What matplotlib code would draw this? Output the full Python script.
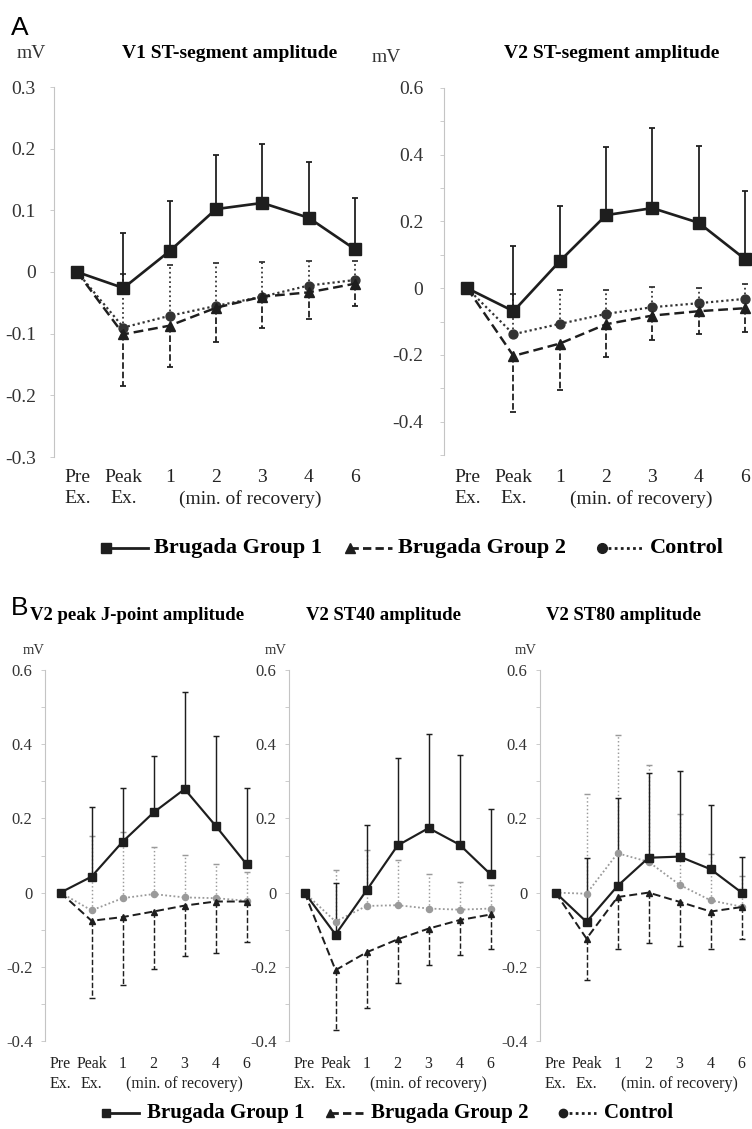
import numpy as np
import matplotlib.pyplot as plt
from matplotlib.lines import Line2D

W, H = 752, 1129
x_pos = np.arange(7)
tick_top = ["Pre", "Peak", "1", "2", "3", "4", "6"]
tick_bot = ["Ex.", "Ex."]
groups = ["Brugada Group 1", "Brugada Group 2", "Control"]

# A: V1 ST-segment amplitude (mean, SD)
v1_g1 = [0, -0.026, 0.034, 0.102, 0.112, 0.088, 0.037]
v1_g1_sd = [0, 0.090, 0.081, 0.088, 0.096, 0.090, 0.083]
v1_g2 = [0, -0.101, -0.087, -0.058, -0.040, -0.033, -0.019]
v1_g2_sd = [0, 0.084, 0.067, 0.055, 0.050, 0.043, 0.036]
v1_ct = [0, -0.090, -0.071, -0.055, -0.040, -0.022, -0.013]
v1_ct_sd = [0, 0.086, 0.083, 0.070, 0.056, 0.040, 0.031]

# A: V2 ST-segment amplitude
v2_g1 = [0, -0.069, 0.081, 0.219, 0.240, 0.196, 0.087]
v2_g1_sd = [0, 0.196, 0.165, 0.203, 0.241, 0.231, 0.205]
v2_g2 = [0, -0.203, -0.166, -0.108, -0.082, -0.069, -0.060]
v2_g2_sd = [0, 0.169, 0.138, 0.098, 0.074, 0.067, 0.070]
v2_ct = [0, -0.138, -0.107, -0.077, -0.057, -0.045, -0.032]
v2_ct_sd = [0, 0.120, 0.102, 0.072, 0.062, 0.045, 0.045]

# B: V2 peak J-point amplitude
jp_g1 = [0, 0.043, 0.137, 0.216, 0.279, 0.180, 0.076]
jp_g1_sd = [0, 0.188, 0.146, 0.153, 0.262, 0.242, 0.207]
jp_g2 = [0, -0.076, -0.066, -0.051, -0.035, -0.024, -0.024]
jp_g2_sd = [0, 0.207, 0.182, 0.155, 0.137, 0.138, 0.108]
jp_ct = [0, -0.048, -0.015, -0.004, -0.013, -0.015, -0.022]
jp_ct_sd = [0, 0.200, 0.179, 0.128, 0.114, 0.092, 0.078]

# B: V2 ST40 amplitude
st40_g1 = [0, -0.113, 0.006, 0.127, 0.174, 0.129, 0.049]
st40_g1_sd = [0, 0.139, 0.175, 0.236, 0.254, 0.241, 0.175]
st40_g2 = [0, -0.209, -0.161, -0.126, -0.097, -0.074, -0.059]
st40_g2_sd = [0, 0.161, 0.150, 0.117, 0.098, 0.093, 0.092]
st40_ct = [0, -0.078, -0.036, -0.034, -0.043, -0.046, -0.043]
st40_ct_sd = [0, 0.140, 0.150, 0.121, 0.092, 0.075, 0.063]

# B: V2 ST80 amplitude
st80_g1 = [0, -0.079, 0.018, 0.094, 0.097, 0.063, 0.0]
st80_g1_sd = [0, 0.173, 0.236, 0.229, 0.230, 0.173, 0.096]
st80_g2 = [0, -0.124, -0.012, 0.0, -0.025, -0.051, -0.039]
st80_g2_sd = [0, 0.111, 0.140, 0.135, 0.119, 0.101, 0.085]
st80_ct = [0, -0.003, 0.106, 0.083, 0.021, -0.021, -0.038]
st80_ct_sd = [0, 0.270, 0.320, 0.262, 0.190, 0.124, 0.083]

SERIF = "Liberation Serif"
DARK = "#1e1e1e"

fig = plt.figure(figsize=(W / 100, H / 100), dpi=100)


def make_ax(left, top, right, bottom):
    return fig.add_axes([left / W, 1 - bottom / H, (right - left) / W, (bottom - top) / H])


def bars(ax, x, y, sd, sign, ls, color, lw):
    y = np.asarray(y)[1:]
    end = y + sign * np.asarray(sd)[1:]
    ax.vlines(x[1:], y, end, colors=color, linestyles=ls, lw=lw, zorder=1)
    ax.plot(x[1:], end, ls="none", marker="_", ms=4, mew=lw, color=color, zorder=1)


def draw(ax, g1, g1sd, g2, g2sd, ct, ctsd, ms, lw, ct_col, fs, major, minor, ylim, xlim, ypad):
    bars(ax, x_pos, ct, ctsd, 1, ":", ct_col, lw * 0.8)
    bars(ax, x_pos, g2, g2sd, -1, "--", DARK, lw * 0.8)
    bars(ax, x_pos, g1, g1sd, 1, "-", DARK, lw * 0.8)
    ax.plot(x_pos, ct, ls=(0, (1, 1.3)), color=ct_col, lw=lw, marker="o", ms=ms * 0.8, zorder=3)
    ax.plot(x_pos, g2, ls=(0, (4, 2)), color=DARK, lw=lw * 1.1, marker="^", ms=ms * 0.85, zorder=4)
    ax.plot(x_pos, g1, ls="-", color=DARK, lw=lw * 1.2, marker="s", ms=ms, zorder=5)
    ax.set_xlim(*xlim)
    ax.set_ylim(*ylim)
    for s in ["top", "right", "bottom"]:
        ax.spines[s].set_visible(False)
    ax.spines["left"].set_color("#c4c4c4")
    ax.spines["left"].set_linewidth(0.8)
    ax.set_xticks([])
    ax.set_yticks(major)
    ax.set_yticklabels(["%g" % v if v != 0 else "0" for v in major], fontsize=fs,
                       family=SERIF, color="#333333")
    ax.set_yticks(minor, minor=True)
    ax.tick_params(axis="y", which="both", length=3, width=0.6, color="#c4c4c4", pad=ypad)
    ax.patch.set_alpha(0)


# panel A
axA1 = make_ax(54, 87, 378, 457)
draw(axA1, v1_g1, v1_g1_sd, v1_g2, v1_g2_sd, v1_ct, v1_ct_sd, 8, 1.6, "#333333", 14,
     np.round(np.arange(-0.3, 0.31, 0.1), 2), [], (-0.3, 0.3), (-0.5, 6.5), 10)
axA2 = make_ax(444, 88, 752, 455)
draw(axA2, v2_g1, v2_g1_sd, v2_g2, v2_g2_sd, v2_ct, v2_ct_sd, 8, 1.6, "#333333", 14,
     np.round(np.arange(-0.4, 0.61, 0.2), 2), np.round(np.arange(-0.5, 0.6, 0.2), 2),
     (-0.5, 0.6), (-0.5, 6.15), 12)

# panel B
b_major = np.round(np.arange(-0.4, 0.61, 0.2), 2)
b_minor = np.round(np.arange(-0.3, 0.6, 0.2), 2)
axB1 = make_ax(45, 670, 256, 1041)
draw(axB1, jp_g1, jp_g1_sd, jp_g2, jp_g2_sd, jp_ct, jp_ct_sd, 5.5, 1.3, "#9a9a9a", 12,
     b_major, b_minor, (-0.4, 0.6), (-0.5, 6.3), 6)
axB2 = make_ax(289, 670, 500, 1041)
draw(axB2, st40_g1, st40_g1_sd, st40_g2, st40_g2_sd, st40_ct, st40_ct_sd, 5.5, 1.3, "#9a9a9a", 12,
     b_major, b_minor, (-0.4, 0.6), (-0.5, 6.3), 6)
axB3 = make_ax(540, 670, 751, 1041)
draw(axB3, st80_g1, st80_g1_sd, st80_g2, st80_g2_sd, st80_ct, st80_ct_sd, 5.5, 1.3, "#9a9a9a", 12,
     b_major, b_minor, (-0.4, 0.6), (-0.5, 6.3), 6)

# x labels under each panel
for ax, y1, y2, fs, mid in [(axA1, 477, 499, 14, 3.75), (axA2, 477, 499, 14, 3.75),
                            (axB1, 1064, 1084, 11.5, 4.0), (axB2, 1064, 1084, 11.5, 4.0),
                            (axB3, 1064, 1084, 11.5, 4.0)]:
    tr = ax.get_xaxis_transform()
    yy1 = 1 - (y1 - (1 - ax.get_position().y0) * H) / (ax.get_position().height * H) - 1
    for i, lab in enumerate(tick_top):
        ax.annotate(lab, (x_pos[i], 0), xycoords=("data", "figure fraction"),
                    xytext=(0, 0), textcoords="offset points", ha="center", va="center",
                    fontsize=fs, family=SERIF, color="#222222", annotation_clip=False)
        ax.texts[-1].xy = (x_pos[i], 1 - y1 / H)
    for i, lab in enumerate(tick_bot):
        ax.annotate(lab, (x_pos[i], 1 - y2 / H), xycoords=("data", "figure fraction"),
                    ha="center", va="center", fontsize=fs, family=SERIF, color="#222222",
                    annotation_clip=False)
    ax.annotate("(min. of recovery)", (mid, 1 - y2 / H), xycoords=("data", "figure fraction"),
                ha="center", va="center", fontsize=fs, family=SERIF, color="#222222",
                annotation_clip=False)

# free text and legends on an overlay in pixel coordinates
ov = fig.add_axes([0, 0, 1, 1])
ov.set_xlim(0, W)
ov.set_ylim(H, 0)
ov.axis("off")
ov.patch.set_alpha(0)

ov.text(11, 28, "A", fontsize=19, family="Liberation Sans", va="center", ha="left")
ov.text(11, 608, "B", fontsize=19, family="Liberation Sans", va="center", ha="left")
for x, y, fs in [(31, 54, 14), (386, 57, 14), (34, 651, 10.5), (276, 651, 10.5), (526, 651, 10.5)]:
    ov.text(x, y, "mV", fontsize=fs, family=SERIF, ha="center", va="center", color="#333333")
for x, y, s, fs in [(230, 54, "V1 ST-segment amplitude", 14),
                    (612, 54, "V2 ST-segment amplitude", 14),
                    (137, 615, "V2 peak J-point amplitude", 13.5),
                    (384, 615, "V2 ST40 amplitude", 13.5),
                    (623, 615, "V2 ST80 amplitude", 13.5)]:
    ov.text(x, y, s, fontsize=fs, family=SERIF, weight="bold", ha="center", va="center")


def legend_row(y, starts, seg, gap, fs, ms):
    styles = [("s", "-"), ("^", (0, (3, 1.5))), ("o", (0, (1, 1.2)))]
    for x0, (mk, ls), lab in zip(starts, styles, groups):
        ov.add_line(Line2D([x0, x0 + seg], [y, y], color=DARK, lw=2, ls=ls))
        ov.add_line(Line2D([x0], [y], color=DARK, marker=mk, ms=ms, ls="none"))
        ov.text(x0 + seg + gap, y, lab, fontsize=fs, family=SERIF, weight="bold",
                ha="left", va="center")


legend_row(548, [106, 350, 602], 42, 6, 16, 7)
legend_row(1113, [106, 330, 563], 33, 8, 15, 6)

fig.savefig("out.png", dpi=100)
